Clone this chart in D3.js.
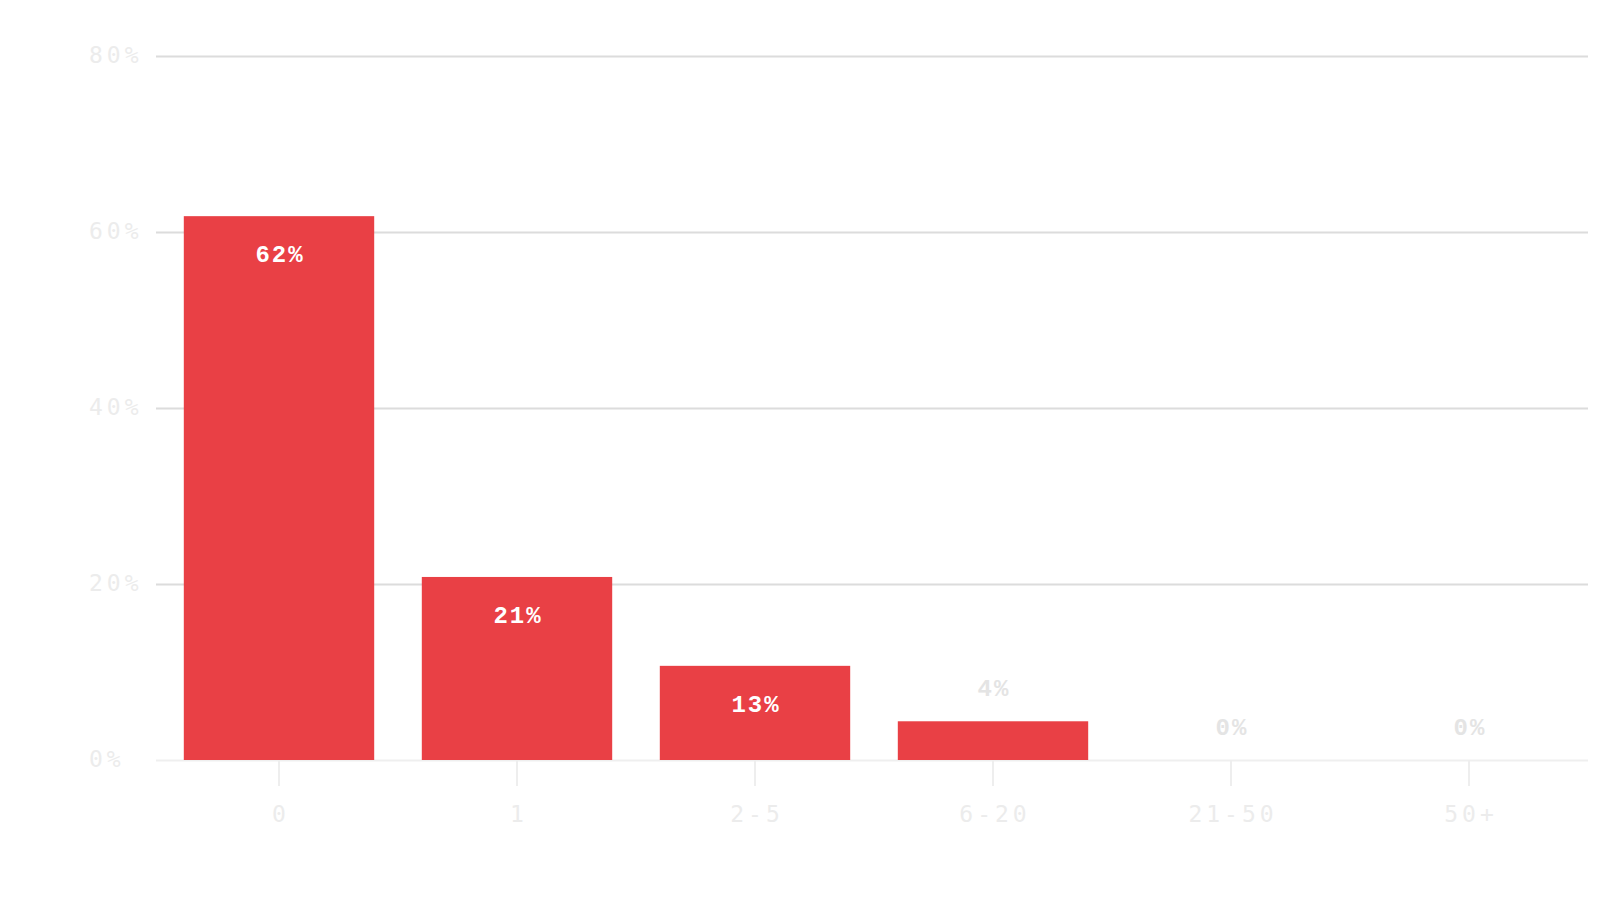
<!DOCTYPE html>
<html>
<head>
<meta charset="utf-8">
<script src="https://cdn.jsdelivr.net/npm/d3@7"></script>
<style>
  body { margin: 0; background: #fff; }
  svg { display: block; }
</style>
</head>
<body>
<svg id="chart" width="1600" height="920"></svg>
<script>
var categories = ['0', '1', '2-5', '6-20', '21-50', '50+'];
var shares = [61.8, 20.8, 10.7, 4.4, 0, 0];
var shareLabels = ['62%', '21%', '13%', '4%', '0%', '0%'];
var yTicks = [0, 20, 40, 60, 80];

var margin = { top: 56, right: 12, bottom: 160, left: 156 },
    width = 1600 - margin.left - margin.right,
    height = 920 - margin.top - margin.bottom;

var svg = d3.select('#chart'),
    g = svg.append('g').attr('transform', 'translate(' + margin.left + ',' + margin.top + ')');

var x = d3.scaleBand().domain(categories).range([4, width]).paddingInner(0.2).paddingOuter(0.1);
var y = d3.scaleLinear().domain([0, 80]).range([height, 0]);

var axisFont = '"DejaVu Sans Mono", monospace';

// grid + y labels (labels sit flush left)
var yAxis = g.append('g')
    .call(d3.axisLeft(y).tickValues(yTicks).tickSize(-width).tickFormat(function (d) { return d + '%'; }));
yAxis.select('.domain').remove();
yAxis.selectAll('.tick line')
    .attr('stroke', function (d) { return d === 0 ? '#efefef' : '#dcdcdc'; })
    .attr('stroke-width', 2);
yAxis.selectAll('.tick text')
    .attr('x', -67)
    .attr('dy', '0.28em')
    .attr('text-anchor', 'start')
    .attr('fill', '#ececec')
    .style('font-family', axisFont)
    .style('font-size', '23px')
    .style('letter-spacing', '4px');

// x axis
var xAxis = g.append('g')
    .attr('transform', 'translate(0,' + height + ')')
    .call(d3.axisBottom(x).tickSize(26).tickPadding(20));
xAxis.select('.domain').remove();
xAxis.selectAll('.tick line').attr('stroke', '#eeeeee').attr('stroke-width', 2);
xAxis.selectAll('.tick text')
    .attr('dx', 2)
    .attr('fill', '#ececec')
    .style('font-family', axisFont)
    .style('font-size', '23px')
    .style('letter-spacing', '4px');

var rows = categories.map(function (c, i) {
  return { cat: c, value: shares[i], label: shareLabels[i] };
});

g.selectAll('rect.bar')
    .data(rows)
    .join('rect')
    .attr('class', 'bar')
    .attr('x', function (d) { return x(d.cat); })
    .attr('y', function (d) { return y(d.value); })
    .attr('width', x.bandwidth())
    .attr('height', function (d) { return height - y(d.value); })
    .attr('fill', '#e94045');

// values inside tall bars, above short ones
function inside(d) { return height - y(d.value) > 60; }

g.selectAll('text.val')
    .data(rows)
    .join('text')
    .attr('class', 'val')
    .attr('x', function (d) { return x(d.cat) + x.bandwidth() / 2 + 1; })
    .attr('y', function (d) { return inside(d) ? y(d.value) + 46 : y(d.value) - 25; })
    .attr('text-anchor', 'middle')
    .attr('fill', function (d) { return inside(d) ? '#ffffff' : '#e4e4e4'; })
    .style('font-family', '"Liberation Mono", "Courier New", monospace')
    .style('font-weight', 'bold')
    .style('font-size', '24px')
    .style('letter-spacing', '2px')
    .text(function (d) { return d.label; });
</script>
</body>
</html>
